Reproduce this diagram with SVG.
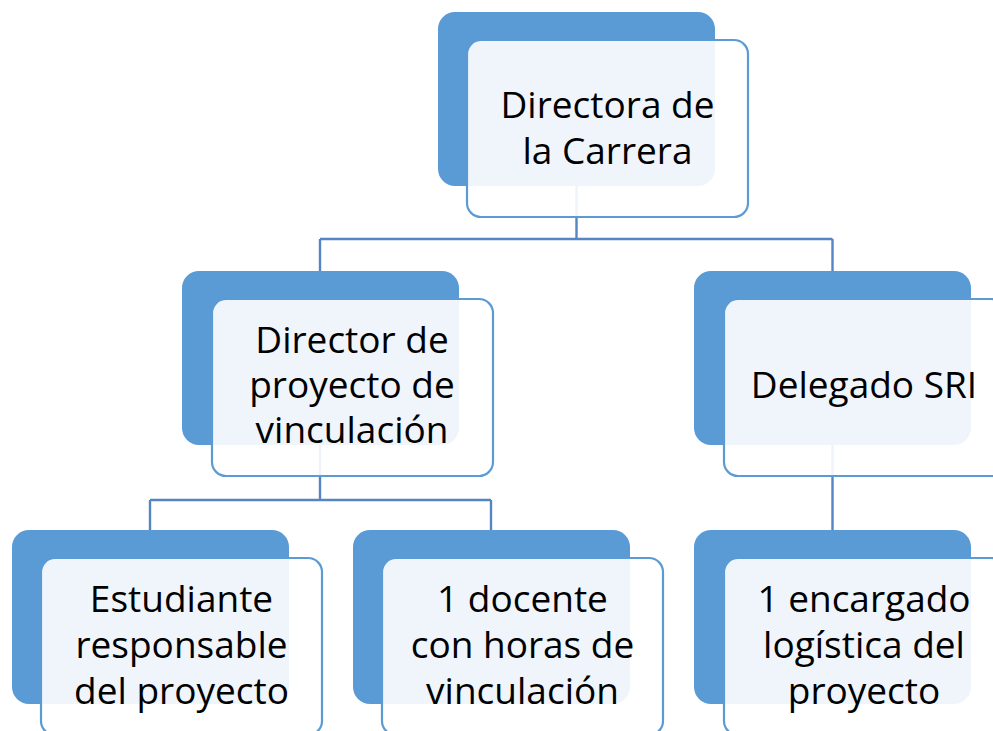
<svg xmlns="http://www.w3.org/2000/svg" width="993" height="731" viewBox="0 0 993 731">
<style>
.back{fill:#5b9bd5}
.front{fill:#ffffff;fill-opacity:0.9;stroke:#5b9bd5;stroke-width:2.2}
.conn{fill:none;stroke:#5585c2;stroke-width:2.4}
text{font-family:"Open Sans","Noto Sans",sans-serif;font-size:37px;fill:#000;text-anchor:middle}
</style>
<rect width="993" height="731" fill="#fff"/>
<g id="connectors">
<path class="conn" d="M576.5,186 V239 M320,239 H832.5 M320,239 V271 M832.5,239 V271"/>
<path class="conn" d="M320,445 V500 M150,500 H491 M150,500 V530 M491,500 V530"/>
<path class="conn" d="M832.5,445 V530"/>
</g>
<g id="n-directora">
<rect class="back" x="438" y="12" width="277" height="174" rx="17"/>
<rect class="front" x="467" y="40" width="281" height="177" rx="14"/>
<text x="607.5" y="118">Directora de</text>
<text x="607.5" y="164">la Carrera</text>
</g>
<g id="n-director">
<rect class="back" x="182" y="271" width="277" height="174" rx="17"/>
<rect class="front" x="212" y="299" width="281" height="177" rx="14"/>
<text x="352" y="353">Director de</text>
<text x="352" y="398">proyecto de</text>
<text x="352" y="443">vinculación</text>
</g>
<g id="n-delegado">
<rect class="back" x="694" y="271" width="277" height="174" rx="17"/>
<rect class="front" x="724" y="299" width="281" height="177" rx="14"/>
<text x="864" y="398">Delegado SRI</text>
</g>
<g id="n-estudiante">
<rect class="back" x="12" y="530" width="277" height="174" rx="17"/>
<rect class="front" x="41" y="558" width="281" height="177" rx="14"/>
<text x="181.5" y="612">Estudiante</text>
<text x="181.5" y="658">responsable</text>
<text x="181.5" y="704">del proyecto</text>
</g>
<g id="n-docente">
<rect class="back" x="353" y="530" width="277" height="174" rx="17"/>
<rect class="front" x="382" y="558" width="281" height="177" rx="14"/>
<text x="522.5" y="612">1 docente</text>
<text x="522.5" y="658">con horas de</text>
<text x="522.5" y="704">vinculación</text>
</g>
<g id="n-encargado">
<rect class="back" x="694" y="530" width="277" height="174" rx="17"/>
<rect class="front" x="724" y="558" width="281" height="177" rx="14"/>
<text x="864" y="612">1 encargado</text>
<text x="864" y="658">logística del</text>
<text x="864" y="704">proyecto</text>
</g>
</svg>
